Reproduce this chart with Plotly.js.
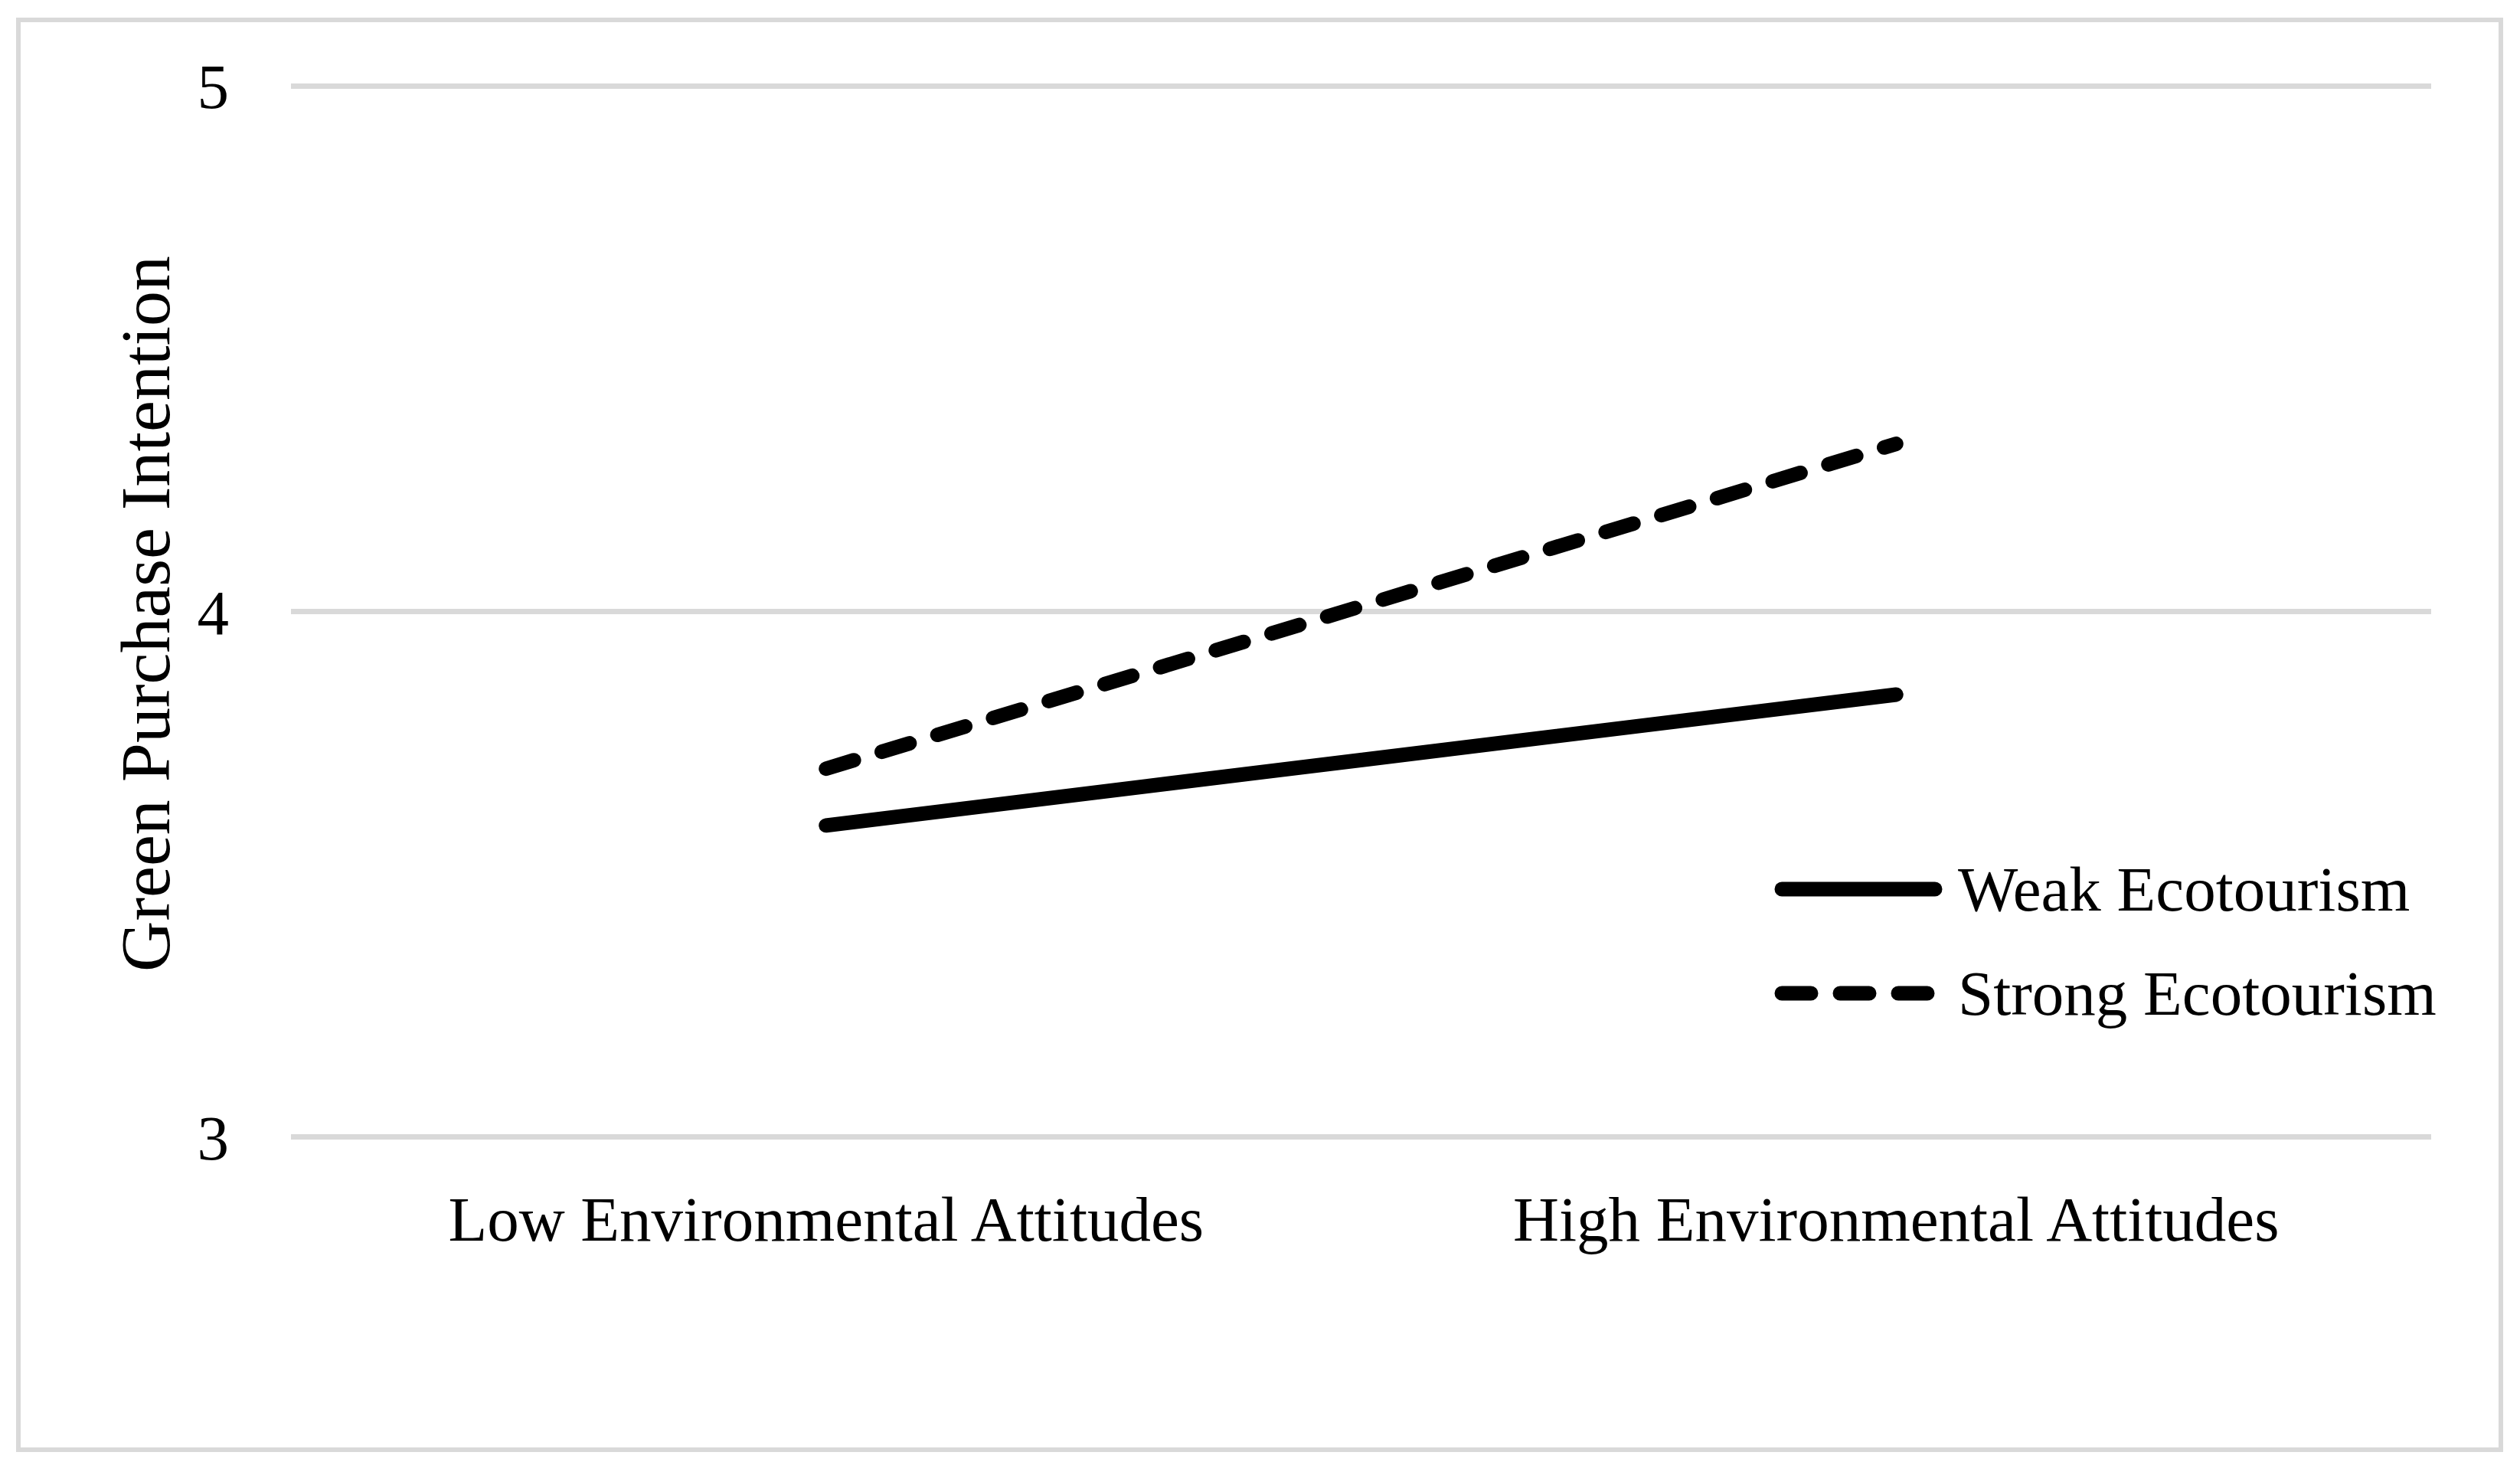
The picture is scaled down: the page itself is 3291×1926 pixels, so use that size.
<!DOCTYPE html>
<html>
<head>
<meta charset="utf-8">
<script src="https://cdn.plot.ly/plotly-3.0.1.min.js"></script>
<style>
  html, body { margin: 0; padding: 0; background: #ffffff; }
  #chart { width: 3291px; height: 1926px; }
  .scatterlayer path.js-line, .shapelayer path { stroke-linecap: round; }
</style>
</head>
<body>
<div id="chart"></div>
<script>
// ---- data ----
const categories = ['Low Environmental Attitudes', 'High Environmental Attitudes'];
const weakEcotourism = [3.593, 3.842];
const strongEcotourism = [3.701, 4.319];
const seriesNames = ['Weak Ecotourism', 'Strong Ecotourism'];
const yTickValues = [3, 4, 5];
const yAxisTitle = 'Green Purchase Intention';

// ---- layout geometry (pixels) ----
const W = 3291, H = 1926;
const M = { l: 380, r: 116, t: 108, b: 437 };
const plotL = M.l, plotR = W - M.r, plotT = M.t, plotB = H - M.b;
const px2x = p => (p - plotL) / (plotR - plotL);
const py2y = p => (plotB - p) / (plotB - plotT);

const FONT = 'Liberation Serif, Times New Roman, serif';
const FS = 83;
const GRID = '#d9d9d9';
const DASH = '38px,38px';

const traces = [
  {
    type: 'scatter', mode: 'lines', name: seriesNames[0],
    x: categories, y: weakEcotourism,
    line: { color: '#000000', width: 19 },
    showlegend: false, hoverinfo: 'skip'
  },
  {
    type: 'scatter', mode: 'lines', name: seriesNames[1],
    x: categories, y: strongEcotourism,
    line: { color: '#000000', width: 19, dash: DASH },
    showlegend: false, hoverinfo: 'skip'
  }
];

// manual legend (long line samples like the original)
const legX0 = px2x(2327), legX1 = px2x(2527), legTextX = px2x(2555);
const legY = [py2y(1161), py2y(1297)];

const shapes = [
  { type: 'rect', xref: 'paper', yref: 'paper',
    x0: px2x(24), x1: px2x(3266), y0: py2y(1893), y1: py2y(26),
    line: { color: GRID, width: 6 }, fillcolor: 'rgba(0,0,0,0)', layer: 'below' },
  { type: 'line', xref: 'paper', yref: 'paper',
    x0: legX0, x1: legX1, y0: legY[0], y1: legY[0],
    line: { color: '#000000', width: 19 } },
  { type: 'line', xref: 'paper', yref: 'paper',
    x0: legX0, x1: legX1, y0: legY[1], y1: legY[1],
    line: { color: '#000000', width: 19, dash: DASH } }
];

const annotations = seriesNames.map((n, i) => ({
  xref: 'paper', yref: 'paper', x: legTextX, y: legY[i],
  xanchor: 'left', yanchor: 'middle', showarrow: false,
  text: n, font: { family: FONT, size: FS, color: '#000000' }
}));

// y axis title, placed as a rotated annotation for exact positioning
annotations.push({
  xref: 'paper', yref: 'paper', x: px2x(190), y: py2y(802),
  xanchor: 'center', yanchor: 'middle', showarrow: false, textangle: -90,
  text: yAxisTitle, font: { family: FONT, size: 92, color: '#000000' }
});

const layout = {
  width: W, height: H,
  margin: M,
  paper_bgcolor: '#ffffff', plot_bgcolor: '#ffffff',
  showlegend: false,
  xaxis: {
    type: 'category',
    range: [-0.5, 1.5],
    showgrid: false, zeroline: false, showline: false, ticks: '',
    ticklabelstandoff: 47,
    tickfont: { family: FONT, size: FS, color: '#000000' },
    fixedrange: true
  },
  yaxis: {
    range: [2.994, 5.006],
    tickmode: 'array', tickvals: yTickValues, ticktext: yTickValues.map(String),
    showgrid: true, gridcolor: GRID, gridwidth: 7,
    zeroline: false, showline: false, ticks: '',
    ticklabelstandoff: 80,
    tickfont: { family: FONT, size: FS, color: '#000000' },
    fixedrange: true
  },
  shapes: shapes,
  annotations: annotations
};

Plotly.newPlot('chart', traces, layout, { staticPlot: true, displayModeBar: false });
</script>
</body>
</html>
